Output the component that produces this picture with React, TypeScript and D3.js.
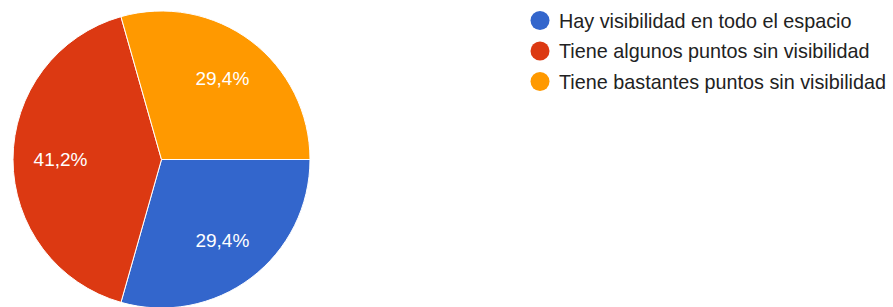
import React, { useEffect, useRef } from 'react';
import * as d3 from 'd3';

const categories = [
  'Hay visibilidad en todo el espacio',
  'Tiene algunos puntos sin visibilidad',
  'Tiene bastantes puntos sin visibilidad',
];
const values = [29.4, 41.2, 29.4];
const labels = ['29,4%', '41,2%', '29,4%'];
const colors = ['#3366cc', '#dc3912', '#ff9900'];

const App = () => {
  const svgRef = useRef<SVGSVGElement>(null);

  useEffect(() => {
    if (!svgRef.current) return;
    const width = 893;
    const height = 307;
    const cx = 161.5;
    const cy = 159.5;
    const r = 148.5;
    const font = 'Arial, "Liberation Sans", sans-serif';

    const svg = d3.select(svgRef.current)
      .attr('width', width)
      .attr('height', height)
      .attr('viewBox', `0 0 ${width} ${height}`);
    svg.selectAll('*').remove();

    const pie = d3.pie<number>()
      .sort(null)
      .startAngle(Math.PI / 2)
      .endAngle(Math.PI / 2 + 2 * Math.PI);
    const arcs = pie(values);

    const arc = d3.arc<d3.PieArcDatum<number>>().innerRadius(0).outerRadius(r);
    const labelArc = d3.arc<d3.PieArcDatum<number>>().innerRadius(101).outerRadius(101);

    const g = svg.append('g').attr('transform', `translate(${cx},${cy})`);

    g.selectAll('path.slice')
      .data(arcs)
      .enter()
      .append('path')
      .attr('class', 'slice')
      .attr('d', arc)
      .attr('fill', (_, i) => colors[i])
      .attr('stroke', '#ffffff')
      .attr('stroke-width', 1);

    g.selectAll('text.pct')
      .data(arcs)
      .enter()
      .append('text')
      .attr('class', 'pct')
      .attr('transform', d => `translate(${labelArc.centroid(d)})`)
      .attr('text-anchor', 'middle')
      .attr('dominant-baseline', 'central')
      .attr('fill', '#ffffff')
      .attr('font-family', font)
      .attr('font-size', '19px')
      .text((_, i) => labels[i]);

    // Legend
    const legend = svg.append('g');
    const rowY = d3.scalePoint<string>().domain(categories).range([20.5, 81.5]);

    const rows = legend.selectAll('g.row')
      .data(categories)
      .enter()
      .append('g')
      .attr('class', 'row')
      .attr('transform', d => `translate(540,${rowY(d)})`);

    rows.append('circle')
      .attr('r', 9.5)
      .attr('fill', (_, i) => colors[i]);

    rows.append('text')
      .attr('x', 19)
      .attr('dominant-baseline', 'central')
      .attr('fill', '#222222')
      .attr('font-family', font)
      .attr('font-size', '19.8px')
      .text(d => d);
  }, []);

  return (
    <div style={{ position: 'absolute', left: 0, top: 0, width: 893, height: 307, overflow: 'hidden', background: '#ffffff' }}>
      <svg ref={svgRef} style={{ display: 'block' }} />
    </div>
  );
};

export default App;
